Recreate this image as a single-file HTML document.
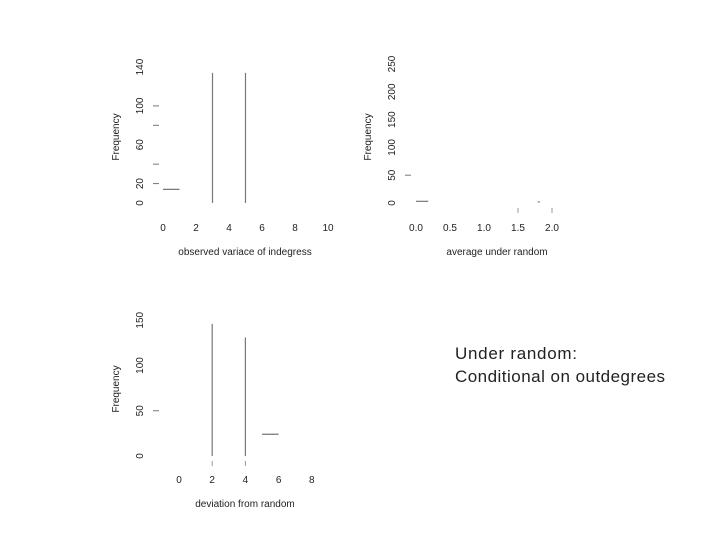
<!DOCTYPE html>
<html><head><meta charset="utf-8"><style>
body{margin:0;background:#fff}
svg{display:block;font-family:"Liberation Sans",sans-serif}
text{fill:#222}
</style></head><body>
<svg width="720" height="540" viewBox="0 0 720 540">
<g id="p1"></g>
<g id="p2"></g>
<g id="p3"></g>
<text x="455" y="359" font-size="17" textLength="122" lengthAdjust="spacing">Under random:</text>
<text x="455" y="382" font-size="17" textLength="210" lengthAdjust="spacing">Conditional on outdegrees</text>
</svg>
<script>
const p1XTicks=[0,2,4,6,8,10];
const p1YTicks=[0,20,60,100,140];
const p1YMarks=[20,40,80,100];
const p1Vlines=[3,5];
const p1Vvals=[134,134];
const p1Hsegs=[[0,1,14]];
const p2XTicks=["0.0","0.5","1.0","1.5","2.0"];
const p2XVals=[0,0.5,1,1.5,2];
const p2YTicks=[0,50,100,150,200,250];
const p2YMarks=[50];
const p2Hsegs=[[0,0.18,3],[1.79,1.82,2]];
const p3XTicks=[0,2,4,6,8];
const p3YTicks=[0,50,100,150];
const p3YMarks=[50];
const p3Vlines=[2,4];
const p3Vvals=[146,131];
const p3Hsegs=[[5,6,24]];
const NS="http://www.w3.org/2000/svg";
function mk(g,tag,attrs,txt){const e=document.createElementNS(NS,tag);for(const k in attrs)e.setAttribute(k,attrs[k]);if(txt!==undefined)e.textContent=txt;g.appendChild(e);return e;}
function panel(id,cfg){
  const g=document.getElementById(id);
  const sx=v=>cfg.x0+(v-cfg.xmin)*cfg.xs, sy=v=>cfg.y0-v*cfg.ys;
  cfg.xt.forEach((t,i)=>{const e=mk(g,'text',{x:sx(cfg.xv[i]),y:cfg.xly,'font-size':10,'text-anchor':'middle'},t);
    });
  cfg.yt.forEach(t=>{const y=sy(t);const e=mk(g,'text',{x:0,y:0,'font-size':10,'text-anchor':'middle',transform:`translate(${cfg.ylx},${y}) rotate(-90)`},t);
    });
  cfg.ym.forEach(t=>{const e=mk(g,'line',{x1:cfg.ylx+10,x2:cfg.ylx+16,y1:sy(t),y2:sy(t),stroke:'#777','stroke-width':1});
    });
  (cfg.vl||[]).forEach((v,i)=>{const e=mk(g,'line',{x1:sx(v),x2:sx(v),y1:sy(cfg.vv[i]),y2:cfg.y0,stroke:'#777','stroke-width':1.2});
    
    if(cfg.below){const t=mk(g,'line',{x1:sx(v),x2:sx(v),y1:cfg.y0+5,y2:cfg.y0+10,stroke:'#999'});
    }});
  (cfg.hs||[]).forEach(s=>{const e=mk(g,'line',{x1:sx(s[0]),x2:sx(s[1]),y1:sy(s[2]),y2:sy(s[2]),stroke:'#777','stroke-width':1.2});
    });
  const xl=mk(g,'text',{x:cfg.xlabx,y:cfg.xlaby,'font-size':10,'text-anchor':'middle'},cfg.xlab);
  
  const yl=mk(g,'text',{x:0,y:0,'font-size':10,'text-anchor':'middle',transform:`translate(${cfg.ylabx},${cfg.ylaby}) rotate(-90)`},'Frequency');
  
  return {g,sx,sy};
}
panel('p1',{x0:163,xmin:0,xs:16.5,y0:203,ys:0.971,xt:p1XTicks.map(String),xv:p1XTicks,xly:231,yt:p1YTicks,ylx:143,ym:p1YMarks,vl:p1Vlines,vv:p1Vvals,hs:p1Hsegs,xlab:'observed variace of indegress',xlabx:245,xlaby:255,ylabx:119,ylaby:137});
const r2=panel('p2',{x0:416,xmin:0,xs:68,y0:203,ys:0.556,xt:p2XTicks,xv:p2XVals,xly:231,yt:p2YTicks,ylx:395,ym:p2YMarks,hs:p2Hsegs,xlab:'average under random',xlabx:497,xlaby:255,ylabx:371,ylaby:137});
[1.5,2].forEach(v=>{const e=mk(r2.g,'line',{x1:r2.sx(v),x2:r2.sx(v),y1:208,y2:213,stroke:'#999'});});
panel('p3',{x0:179,xmin:0,xs:16.6,y0:456,ys:0.905,xt:p3XTicks.map(String),xv:p3XTicks,xly:483,yt:p3YTicks,ylx:143,ym:p3YMarks,vl:p3Vlines,vv:p3Vvals,hs:p3Hsegs,below:true,xlab:'deviation from random',xlabx:245,xlaby:507,ylabx:119,ylaby:389});
</script>
</body></html>
